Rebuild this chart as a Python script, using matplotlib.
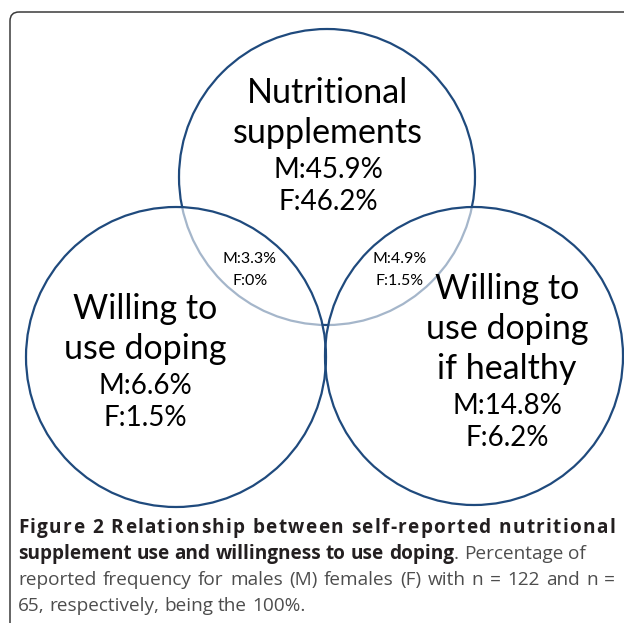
import matplotlib
matplotlib.use('Agg')
import matplotlib.pyplot as plt
from matplotlib.patches import Circle, FancyBboxPatch

# data
set_names = [['Nutritional', 'supplements'],
             ['Willing to', 'use doping'],
             ['Willing to', 'use doping', 'if healthy']]
male_pct = [45.9, 6.6, 14.8]
female_pct = [46.2, 1.5, 6.2]
overlap_male = [3.3, 4.9]      # supplements & willing, supplements & willing if healthy
overlap_female = [0, 1.5]

caption_bold = 'Figure 2 Relationship between self-reported nutritional supplement use and willingness to use doping'
caption_rest = ('. Percentage of reported frequency for males (M) females (F) with '
                'n = 122 and n = 65, respectively, being the 100%.')

W, H = 624, 623
fig = plt.figure(figsize=(W / 100, H / 100), dpi=100)
ax = fig.add_axes([0, 0, 1, 1])
ax.set_xlim(0, W)
ax.set_ylim(H, 0)
ax.axis('off')

navy = '#1f4a7d'
venn_font = 'Lato'

# frame
ax.add_patch(FancyBboxPatch((10, 12), 700, 700, boxstyle='round,pad=0,rounding_size=9',
                            fc='none', ec='#3a3a3a', lw=1.1, zorder=0))

# circles: top, left, right  (centre x, centre y, radius) in pixels
geo = [(327, 177, 148), (176, 357, 150), (474, 356, 149)]
ax.add_patch(Circle(geo[0][:2], geo[0][2], fc='none', ec=navy, lw=1.6, zorder=1))
for cx, cy, r in geo[1:]:
    ax.add_patch(Circle((cx, cy), r, fc=(1, 1, 1, 0.6), ec='none', zorder=2))
for cx, cy, r in geo[1:]:
    ax.add_patch(Circle((cx, cy), r, fc='none', ec=navy, lw=1.6, zorder=3))

def pct(v):
    return f'{v:g}%'

# labels for each set: (x centre, first line y)
label_pos = [(328, 93), (145, 309), (507, 289)]
for i, (x, y0) in enumerate(label_pos):
    y = y0
    for line in set_names[i]:
        ax.text(x, y, line, fontsize=24.5, family=venn_font, ha='center', va='center', zorder=5)
        y += 40
    y -= 3
    ax.text(x, y, 'M:' + pct(male_pct[i]), fontsize=20, family=venn_font,
            ha='center', va='center', zorder=5)
    ax.text(x, y + 32, 'F:' + pct(female_pct[i]), fontsize=20, family=venn_font,
            ha='center', va='center', zorder=5)

overlap_pos = [(250, 259), (400, 259)]
for (x, y), m, f in zip(overlap_pos, overlap_male, overlap_female):
    ax.text(x, y, 'M:' + pct(m), fontsize=11.5, family=venn_font, ha='center', va='center', zorder=5)
    ax.text(x, y + 22, 'F:' + pct(f), fontsize=11.5, family=venn_font, ha='center', va='center', zorder=5)

# caption with justified lines
fig.canvas.draw()
renderer = fig.canvas.get_renderer()
cap_font = 'Open Sans'
cap_size = 13.7
bold_col = '#231f20'
reg_col = '#4d4d4d'

def width_of(s, weight):
    t = ax.text(0, 0, s, fontsize=cap_size, family=cap_font, weight=weight)
    w = t.get_window_extent(renderer).width
    t.remove()
    return w

space_w = width_of('x x', 'normal') - width_of('xx', 'normal')

bold_words = caption_bold.split(' ')
rest_words = caption_rest.split(' ')
tokens = [(w, 'bold', bold_col, k > 0) for k, w in enumerate(bold_words)]
tokens += [(w, 'normal', reg_col, k > 0) for k, w in enumerate(rest_words)]

lines_split = [6, 16, 30]   # token index where each new line begins
x0, x1 = 18, 615
baselines = [533, 559, 585, 611]
starts = [0] + lines_split
ends = lines_split + [len(tokens)]

# first line: justified with letter spacing, like the original
toks = tokens[:lines_split[0]]
char_w = [[width_of(c, t[1]) for c in t[0]] for t in toks]
n_chars = sum(len(c) for c in char_w)
word_gap = space_w * 1.6
extra = (x1 - x0 - sum(sum(c) for c in char_w) - word_gap * (len(toks) - 1)) / (n_chars - len(toks))
x = x0
for j, (t, cw) in enumerate(zip(toks, char_w)):
    if j > 0:
        x += word_gap
    for k, (c, w) in enumerate(zip(t[0], cw)):
        ax.text(x, baselines[0], c, fontsize=cap_size, family=cap_font, weight=t[1],
                color=t[2], ha='left', va='baseline')
        x += w + (extra if k < len(cw) - 1 else 0)

for li, (a, b) in enumerate(zip(starts, ends)):
    if li == 0:
        continue
    toks = tokens[a:b]
    widths = [width_of(t[0], t[1]) for t in toks]
    n_gaps = sum(1 for t in toks[1:] if t[3])
    justify = li == 2
    gap = (x1 - x0 - sum(widths)) / n_gaps if justify else space_w
    x = x0
    for j, (t, w) in enumerate(zip(toks, widths)):
        if j > 0 and t[3]:
            x += gap
        ax.text(x, baselines[li], t[0], fontsize=cap_size, family=cap_font, weight=t[1],
                color=t[2], ha='left', va='baseline')
        x += w

fig.savefig('out.png', dpi=100, facecolor='white')
